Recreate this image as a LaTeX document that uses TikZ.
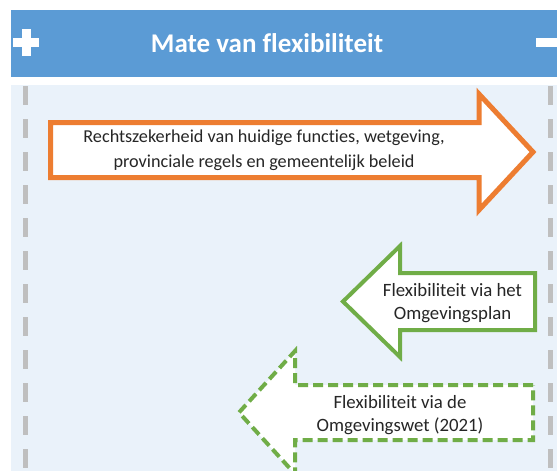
\documentclass[tikz,border=0pt]{standalone}
\usepackage{fontspec}
\setmainfont[Ligatures=CommonOff]{Carlito}

\definecolor{kopblauw}{HTML}{5B9BD5}
\definecolor{vlakblauw}{HTML}{EAF2FA}
\definecolor{streepgrijs}{HTML}{BFBFBF}
\definecolor{oranje}{HTML}{ED7D31}
\definecolor{groen}{HTML}{70AD47}
\definecolor{tekst}{HTML}{262626}

\begin{document}
\begin{tikzpicture}[
    x=1pt, y=-1pt,
    pijltekst/.style = {
      align=center,
      text=tekst,
      inner sep=0pt,
      font=\fontsize{18.2}{24.5}\selectfont
    },
    groentekst/.style = {
      pijltekst,
      font=\fontsize{18.8}{23}\selectfont
    },
    titel/.style = {
      text=white,
      inner sep=0pt,
      font=\fontsize{27}{30}\selectfont\bfseries
    },
    grens/.style = {
      draw=streepgrijs,
      line width=5pt,
      dash pattern=on 19pt off 14pt
    },
    blokpijl/.style = {
      fill=white,
      line join=miter
    }
  ]

    \useasboundingbox (0,0) rectangle (557,471);
    \clip (0,0) rectangle (557,471);

    % Kopbalk
    \fill[kopblauw] (10.7,10) rectangle (557,77);
    \fill[white] (13,38) rectangle (39,47);
    \fill[white] (21.5,29) rectangle (30.5,56);
    \fill[white] (536,37.5) rectangle (557,46.5);
    \node[titel] (kop) at (267,43) {Mate van flexibiliteit};

    % Achtergrond met gestreepte randen
    \fill[vlakblauw] (11,85) rectangle (557,471);
    \draw[grens] (25.5,86) -- (25.5,471);
    \draw[grens] (550.5,86) -- (550.5,471);

    % Pijl naar rechts
    \draw[blokpijl, draw=oranje, line width=5pt]
      (50.5,122.5) -- (479,122.5) -- (479,94) -- (533,152)
      -- (479,210) -- (479,177.5) -- (50.5,177.5) -- cycle;
    \node[pijltekst] (rechtszekerheid) at (264,150)
      {Rechtszekerheid van huidige functies, wetgeving,\\provinciale regels en gemeentelijk beleid};

    % Pijlen naar links
    \draw[blokpijl, draw=groen, line width=4pt]
      (535,273) -- (400,273) -- (400,246) -- (343,301.5)
      -- (400,357) -- (400,330) -- (535,330) -- cycle;
    \node[groentekst] (omgevingsplan) at (452.5,303)
      {Flexibiliteit via het\\Omgevingsplan};

    \draw[blokpijl, draw=groen, line width=4pt, dash pattern=on 10pt off 5pt]
      (533,385) -- (295,385) -- (295,351) -- (239,412.5)
      -- (295,474) -- (295,440) -- (533,440) -- cycle;
    \node[groentekst] (omgevingswet) at (400,415)
      {Flexibiliteit via de\\Omgevingswet (2021)};

  \end{tikzpicture}
\end{document}
